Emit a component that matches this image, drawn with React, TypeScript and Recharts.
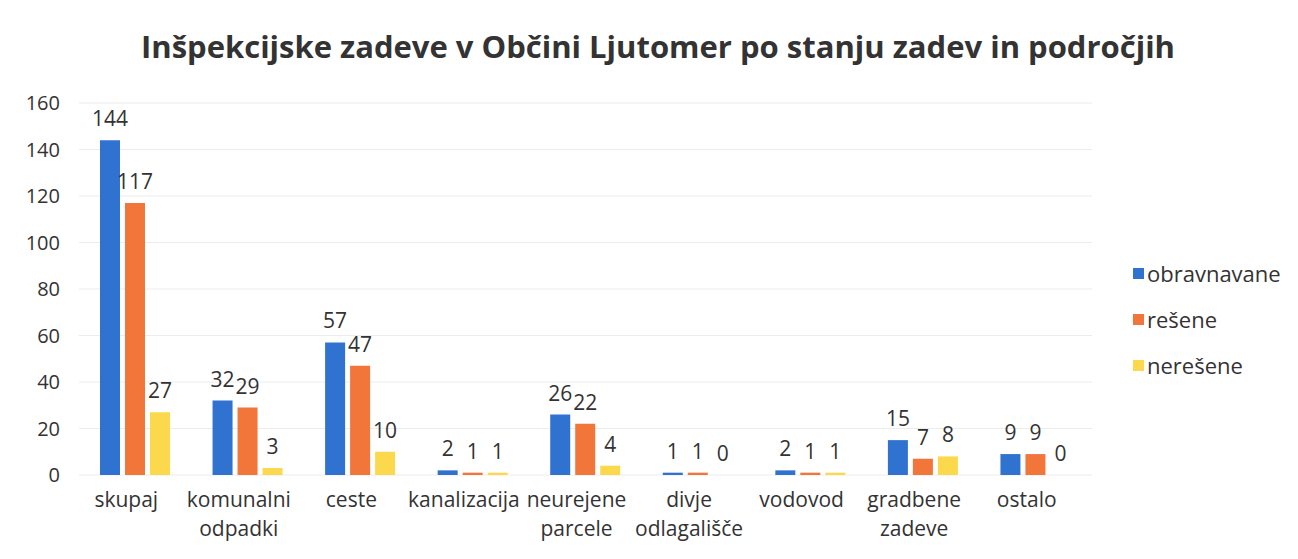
import { Bar, BarChart, CartesianGrid, LabelList, XAxis, YAxis } from 'recharts';

const categories = [
  'skupaj',
  'komunalni odpadki',
  'ceste',
  'kanalizacija',
  'neurejene parcele',
  'divje odlagališče',
  'vodovod',
  'gradbene zadeve',
  'ostalo',
];
const obravnavane = [144, 32, 57, 2, 26, 1, 2, 15, 9];
const resene = [117, 29, 47, 1, 22, 1, 1, 7, 9];
const neresene = [27, 3, 10, 1, 4, 0, 1, 8, 0];
const yTicks = [0, 20, 40, 60, 80, 100, 120, 140, 160];

const series = [
  { key: 'obravnavane', name: 'obravnavane', color: '#2f72d0' },
  { key: 'resene', name: 'rešene', color: '#f2753a' },
  { key: 'neresene', name: 'nerešene', color: '#fcd94c' },
];

const data = categories.map((c, i) => ({
  cat: c,
  obravnavane: obravnavane[i],
  resene: resene[i],
  neresene: neresene[i],
}));

const FONT = '"Open Sans", Calibri, sans-serif';
const TEXT = '#333333';

function CatTick({ x, y, payload }: any) {
  const lines = String(payload.value).split(' ');
  return (
    <text x={x - 9} y={y} textAnchor="middle" fill={TEXT} fontSize={21} fontFamily={FONT}>
      {lines.map((l, i) => (
        <tspan key={i} x={x - 9} dy={i === 0 ? 24 : 29}>
          {l}
        </tspan>
      ))}
    </text>
  );
}

function ValueLabel({ x, y, width, value }: any) {
  return (
    <text
      x={Number(x) + Number(width) / 2}
      y={Number(y) - 14}
      textAnchor="middle"
      fill={TEXT}
      fontSize={21}
      fontFamily={FONT}
    >
      {value}
    </text>
  );
}

// keep zero bars in the layout so their "0" label is still drawn
const keepZero = (v: any) => (Number(v) === 0 ? 0.01 : 0);

export default function App() {
  return (
    <div style={{ position: 'relative', width: 1298, height: 559, margin: -8, background: '#fff' }}>
      <div
        style={{
          position: 'absolute',
          top: 25,
          left: 0,
          width: 1316,
          textAlign: 'center',
          fontFamily: FONT,
          fontWeight: 700,
          fontSize: 31,
          color: '#333',
          whiteSpace: 'nowrap',
        }}
      >
        Inšpekcijske zadeve v Občini Ljutomer po stanju zadev in področjih
      </div>
      <div
        style={{ position: 'absolute', left: 1133, top: 250, fontFamily: FONT, fontSize: 22, color: TEXT }}
      >
        {series.map((s) => (
          <div key={s.key} style={{ display: 'flex', alignItems: 'center', height: 46 }}>
            <span style={{ width: 11, height: 11, background: s.color, marginRight: 3, display: 'inline-block' }} />
            {s.name}
          </div>
        ))}
      </div>
      <BarChart
        width={1298}
        height={559}
        data={data}
        margin={{ top: 103, right: 206, bottom: 14, left: 0 }}
        barGap={5}
        barSize={20}
      >
        <CartesianGrid vertical={false} stroke="#ececec" />
        <XAxis
          dataKey="cat"
          axisLine={false}
          tickLine={false}
          interval={0}
          height={70}
          tick={<CatTick />}
        />
        <YAxis
          width={79}
          domain={[0, 160]}
          ticks={yTicks}
          axisLine={false}
          tickLine={false}
          tickSize={0}
          tickMargin={19}
          tick={{ fill: TEXT, fontSize: 20, fontFamily: FONT }}
        />
        {series.map((s) => (
          <Bar
            key={s.key}
            dataKey={s.key}
            name={s.name}
            fill={s.color}
            minPointSize={keepZero}
            isAnimationActive={false}
          >
            <LabelList dataKey={s.key} content={<ValueLabel />} />
          </Bar>
        ))}
      </BarChart>
    </div>
  );
}
